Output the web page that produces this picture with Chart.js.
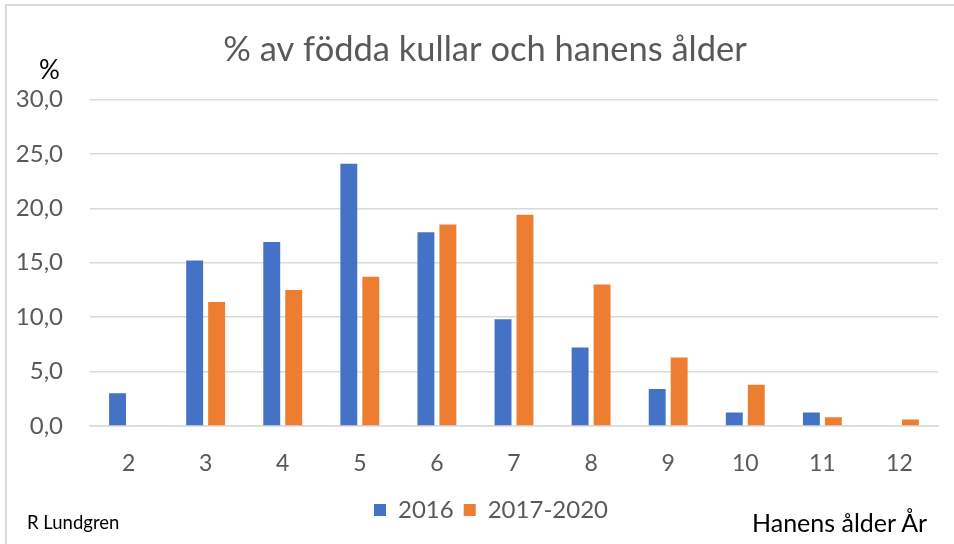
<!DOCTYPE html>
<html>
<head>
<meta charset="utf-8">
<script src="https://cdn.jsdelivr.net/npm/chart.js@4"></script>
<style>
  body { margin: 0; background: #fff; }
  #wrap { position: relative; width: 954px; height: 544px; overflow: hidden; font-family: Lato, "Open Sans", sans-serif; }
  #frame { position: absolute; left: 5px; top: 4px; width: 960px; height: 600px; border: 2px solid #d9d9d9; box-sizing: border-box; }
  .note { position: absolute; color: #000; white-space: nowrap; }
</style>
</head>
<body>
<div id="wrap">
  <div id="frame"></div>
  <canvas id="chart" width="954" height="544"></canvas>
  <div class="note" style="left:39px; top:53px; font-size:26px;">%</div>
  <div class="note" style="left:27px; top:511px; font-size:18.5px;">R Lundgren</div>
  <div class="note" style="left:752px; top:507px; font-size:25px;">Hanens ålder År</div>
</div>
<script>
// hanens ålder (år)
const alder = ['2', '3', '4', '5', '6', '7', '8', '9', '10', '11', '12'];
// % av födda kullar
const ar2016 = [3.0, 15.2, 16.9, 24.1, 17.8, 9.8, 7.2, 3.4, 1.25, 1.25, null];
const ar2017_2020 = [null, 11.4, 12.5, 13.7, 18.5, 19.4, 13.0, 6.3, 3.8, 0.8, 0.6];
const yTicks = [0, 5, 10, 15, 20, 25, 30];

const grey = '#595959';
const gridColor = '#d9d9d9';

// Excel centres title/legend a bit further right than Chart.js does
const nudge = {
    id: 'nudge',
    afterUpdate(chart) {
        if (chart.legend) { chart.legend.left += 17; chart.legend.right += 17; }
        if (chart.titleBlock) { chart.titleBlock.left += 11; chart.titleBlock.right += 11; }
    }
};

const ctx = document.getElementById('chart').getContext('2d');
new Chart(ctx, {
    type: 'bar',
    data: {
        labels: alder,
        datasets: [
            { label: '2016', data: ar2016, backgroundColor: '#4472c4' },
            { label: '2017-2020', data: ar2017_2020, backgroundColor: '#ed7d31' }
        ]
    },
    plugins: [nudge],
    options: {
        responsive: false,
        animation: false,
        layout: { padding: { left: 10, right: 16, top: 0, bottom: 12 } },
        datasets: { bar: { categoryPercentage: 0.57, barPercentage: 0.77 } },
        plugins: {
            title: {
                display: true,
                text: '% av födda kullar och hanens ålder',
                color: grey,
                font: { family: 'Lato', size: 34.5, weight: 'normal' },
                padding: { top: 29, bottom: 29 }
            },
            legend: {
                position: 'bottom',
                labels: {
                    color: grey,
                    font: { family: 'Lato', size: 24 },
                    boxWidth: 12,
                    boxHeight: 12,
                    padding: 10
                }
            },
            tooltip: { enabled: false }
        },
        scales: {
            x: {
                grid: { display: false, drawTicks: false },
                border: { display: true, color: gridColor, width: 1.5 },
                ticks: { color: grey, font: { family: 'Lato', size: 23 }, padding: 24 },
                afterFit: s => { s.height = 62; }
            },
            y: {
                min: 0,
                max: 30,
                afterBuildTicks: s => { s.ticks = yTicks.map(v => ({ value: v })); },
                grid: { color: gridColor, lineWidth: 1.5, drawTicks: false },
                border: { display: false },
                ticks: {
                    color: grey,
                    font: { family: 'Lato', size: 24 },
                    padding: 27,
                    callback: v => v.toFixed(1).replace('.', ',')
                },
                afterFit: s => { s.width = 80; }
            }
        }
    }
});
</script>
</body>
</html>
